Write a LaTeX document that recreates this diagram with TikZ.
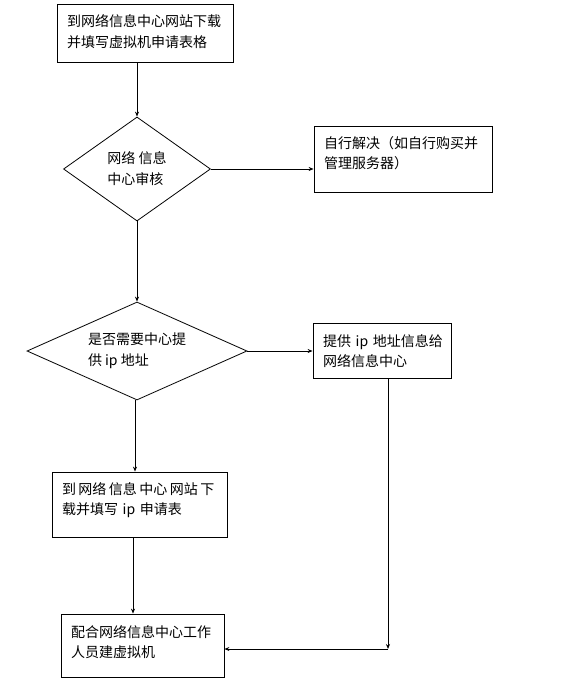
\documentclass[tikz,border=0pt]{standalone}
\usepackage{fontspec}
\setmainfont{Noto Sans CJK SC}
\usetikzlibrary{shapes.geometric,arrows.meta}
\newcommand{\thin}{\hspace{2.5pt}}

\begin{document}
\begin{tikzpicture}[
    x=1pt, y=-1pt,
    box/.style={
        draw=black,
        line width=0.8pt,
        inner xsep=10pt,
        inner ysep=0pt,
        text width=#1,
        align=left,
        text height=23pt,
        font=\fontsize{14}{20.5}\selectfont,
    },
    decision/.style={
        draw=black,
        line width=0.8pt,
        diamond,
        inner sep=0pt,
        align=left,
        font=\fontsize{14}{21}\selectfont,
    },
    flow/.style={line width=0.8pt, -{Stealth[length=5pt,width=4pt]}},
]
\useasboundingbox (0,0) rectangle (576,682);

% Boxes and decisions, pixel positions of the scan
\node[box=156pt, text depth=35pt] (apply) at (145,33) {到网络信息中心网站下载\\并填写虚拟机申请表格};
\node[decision, aspect=1.41, minimum width=147pt, minimum height=104pt] (review) at (137,169) {网络~信息\\中心审核};
\node[box=158pt, text height=22pt, text depth=44pt] (self) at (403,159) {自行解决（如自行购买并\\管理服务器）};
\node[decision, aspect=2.24, minimum width=220pt, minimum height=98pt] (needip) at (137,351) {是否需要中心提\\供~ip~地址};
\node[box=118pt, text depth=32pt] (giveip) at (382,350.5) {提供~ip~地址信息给\\网络信息中心};
\node[box=155pt, text height=22pt, text depth=43pt] (ipform) at (139.5,504.5) {到\thin 网络\thin 信息\thin 中心\thin 网站\thin 下\\载并填写~ip~申请表};
\node[box=143pt, text depth=40pt] (build) at (142.5,645.5) {配合网络信息中心工作\\人员建虚拟机};

% Connectors
\draw[flow] (apply.south -| review.north) -- (review.north);
\draw[flow] (review.east) -- (review.east -| self.west);
\draw[flow] (review.south) -- (needip.north);
\draw[flow] (needip.east) -- (needip.east -| giveip.west);
\draw[flow] ([xshift=-2pt]needip.south) -- ([xshift=-2pt]needip.south |- ipform.north);
\draw[flow] ([xshift=-6.5pt]ipform.south) -- ([xshift=-6.5pt]ipform.south |- build.north);
\coordinate (turn) at (388,649);
\draw[flow] (giveip.south -| turn) -- (turn);
\draw[flow] (turn) -- (turn -| build.east);

\end{tikzpicture}
\end{document}
